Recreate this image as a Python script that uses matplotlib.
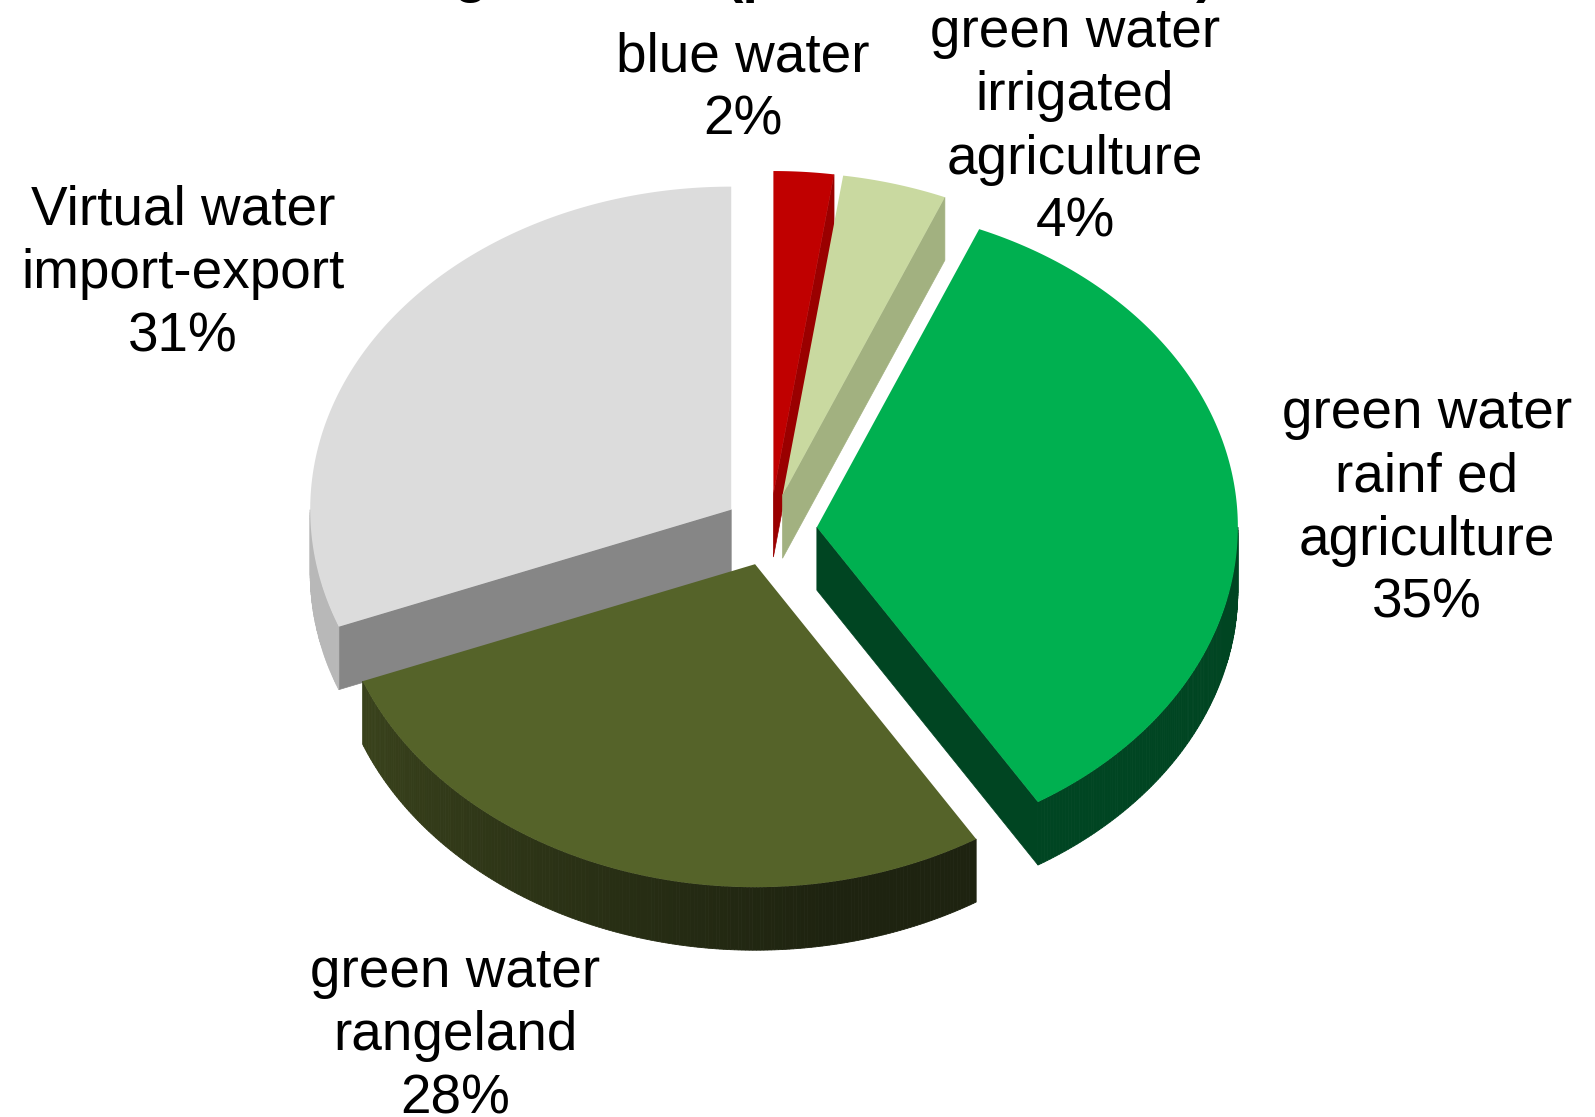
"""Exploded 3D-look pie of water use shares, drawn on pixel axes."""
import numpy as np
import matplotlib
matplotlib.use("Agg")
import matplotlib.pyplot as plt
from matplotlib.colors import to_rgb
from matplotlib.patches import Polygon

labels = ["blue water\n2%", "green water\nirrigated\nagriculture\n4%",
          "green water\nrainf ed\nagriculture\n35%", "green water\nrangeland\n28%",
          "Virtual water\nimport-export\n31%"]
values = [2.3, 4.0, 34.9, 27.9, 30.9]

top_colors = ["#c00000", "#c9d9a0", "#00b050", "#556329", "#dcdcdc"]
face_colors = ["#9a0000", "#a2b180", "#004522", "#3a431c", "#868686"]
# rim colour at the right and left end of each slice's visible rim
rim_right = ["#9a0000", "#a2b180", "#004522", "#1e2310", "#b0b0b0"]
rim_left = ["#9a0000", "#a2b180", "#004522", "#3a431c", "#b8b8b8"]
label_pos = [(743, 89), (1075, 128), (1427, 509), (455, 1036), (183, 274)]

# the title is cut off by the top edge, only these glyph bottoms show
title_bits = ["g", "(p", ")"]
title_x = [471, 750, 1205]

CX, CY = 770, 530      # pie centre, px
RX, RY = 421, 323      # top ellipse radii
DEPTH = 63
EXPLODE = 47

plt.rcParams["font.family"] = ["Liberation Sans", "DejaVu Sans"]
fig = plt.figure(figsize=(15.95, 11.17), dpi=100)
ax = fig.add_axes([0, 0, 1, 1])
ax.set_xlim(0, 1595)
ax.set_ylim(1117, 0)
ax.axis("off")


def pt(c, a):
    # a is clockwise from 12 o'clock, degrees
    r = np.radians(a)
    return c[0] + RX * np.sin(r), c[1] - RY * np.cos(r)


def draw_slice(start, end, top, face, right, left):
    mid = np.radians((start + end) / 2)
    c = (CX + EXPLODE * np.sin(mid), CY - EXPLODE * RY / RX * np.cos(mid))

    # cut faces, only when turned to the viewer
    for a, seen in ((start, np.sin(np.radians(start)) < 0),
                    (end, np.sin(np.radians(end)) > 0)):
        if seen:
            x, y = pt(c, a)
            ax.add_patch(Polygon([c, (x, y), (x, y + DEPTH), (c[0], c[1] + DEPTH)],
                                 fc=face, ec=face, lw=0.5))

    # outer rim, front half only, in small steps for the shading
    lo, hi = max(start, 90), min(end, 270)
    if hi > lo:
        steps = np.linspace(lo, hi, int(hi - lo) * 2 + 2)
        rgb_r, rgb_l = np.array(to_rgb(right)), np.array(to_rgb(left))
        for a0, a1 in zip(steps[:-1], steps[1:]):
            x0, y0 = pt(c, a0)
            x1, y1 = pt(c, a1)
            t = min(1, max(0, (a0 - 170) / 80))
            col = rgb_r + (rgb_l - rgb_r) * t
            ax.add_patch(Polygon([(x0, y0), (x1, y1), (x1, y1 + DEPTH), (x0, y0 + DEPTH)],
                                 fc=col, ec=col, lw=0.6))

    arc = np.linspace(start, end, 200)
    xs, ys = pt(c, arc)
    ax.add_patch(Polygon([c] + list(zip(xs, ys)), fc=top, ec="none"))


edges = np.concatenate([[0], np.cumsum(values)]) / sum(values) * 360
# back to front
for i in [0, 1, 4, 2, 3]:
    draw_slice(edges[i], edges[i + 1], top_colors[i], face_colors[i],
               rim_right[i], rim_left[i])

for lab, (x, y) in zip(labels, label_pos):
    ax.text(x, y, lab, ha="center", va="center", fontsize=39.5, linespacing=1.28,
            color="black")

for bit, x in zip(title_bits, title_x):
    ax.text(x, -9, bit, ha="center", va="baseline", fontsize=40, fontweight="bold",
            color="black", clip_on=False)

fig.savefig("out.png", dpi=100)
